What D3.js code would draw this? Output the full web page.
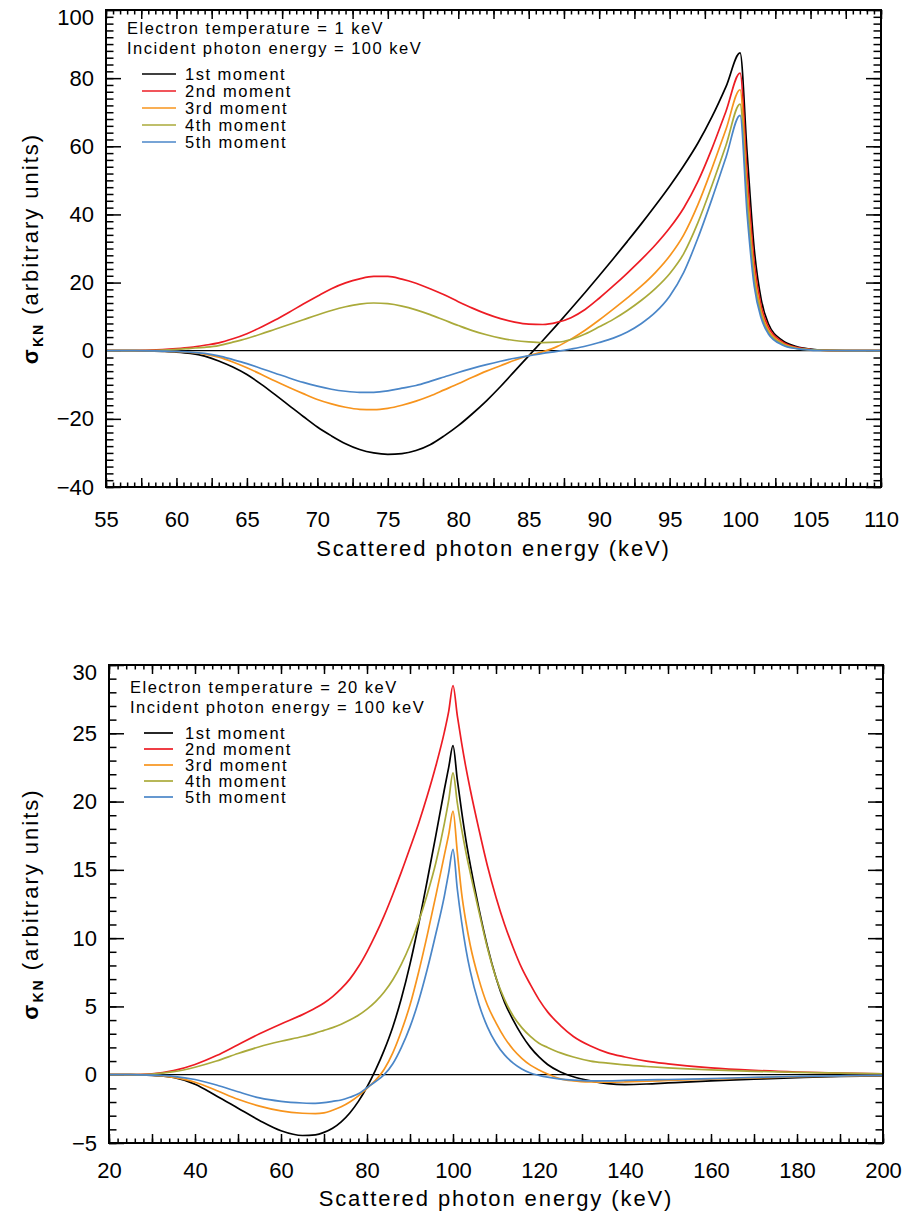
<!DOCTYPE html>
<html>
<head>
<meta charset="utf-8">
<script src="https://cdn.jsdelivr.net/npm/d3@7"></script>
<style>
  body { margin: 0; background: #fff; }
  svg { display: block; }
</style>
</head>
<body>
<script>
// ---- data: top panel (Te = 1 keV) ----
var energyTop = [55, 57, 59, 60, 61, 62, 63, 64, 65, 66, 67, 68, 69, 70, 71, 72, 73, 74, 75, 76, 77, 78, 79,
  80, 81, 82, 83, 84, 85, 86, 87, 88, 89, 90, 91, 92, 93, 94, 95, 96, 97, 98, 99, 100,
  100.5, 101, 101.5, 102, 103, 104, 105, 106, 108, 110];
var top1st = [0, 0, -0.2, -0.4, -0.8, -1.6, -3.0, -4.8, -7.0, -9.8, -12.9, -16.1, -19.3, -22.4, -25.0, -27.3, -29.0, -30.0, -30.4, -30.2, -29.3, -27.6, -25.0,
  -22.0, -18.5, -14.7, -10.5, -6.0, -1.5, 3.0, 7.6, 12.3, 17.1, 22.0, 27.0, 32.1, 37.3, 42.7, 48.3, 54.3, 60.9, 68.6, 77.5, 87.4,
  58, 30, 15, 8, 3, 1.2, 0.45, 0.15, 0.02, 0];
var top2nd = [0, 0.05, 0.3, 0.6, 1.0, 1.6, 2.3, 3.5, 5.0, 6.9, 9.0, 11.3, 13.7, 16.0, 18.2, 19.9, 21.1, 21.8, 21.8, 21.0, 19.8, 18.2, 16.4,
  14.4, 12.5, 10.8, 9.4, 8.4, 7.8, 7.7, 8.3, 9.7, 12.1, 15.4, 19.0, 22.8, 26.8, 31.1, 36.0, 41.9, 49.6, 59.3, 70.3, 81.5,
  52, 26, 13, 7, 2.6, 1.0, 0.35, 0.12, 0.02, 0];
var top3rd = [0, 0, -0.1, -0.25, -0.5, -1.0, -1.9, -3.3, -5.0, -6.9, -8.9, -10.8, -12.6, -14.3, -15.6, -16.6, -17.2, -17.3, -16.9, -16.0, -14.8, -13.3, -11.5,
  -9.7, -7.8, -6.0, -4.4, -2.8, -1.4, -0.3, 1.2, 3.4, 6.0, 9.0, 12.2, 15.5, 19.0, 23.0, 27.8, 34.0, 42.8, 53.5, 65.0, 76.6,
  47, 23, 11.5, 6, 2.2, 0.8, 0.28, 0.1, 0.01, 0];
var top4th = [0, 0.05, 0.2, 0.4, 0.7, 1.0, 1.5, 2.5, 3.6, 4.9, 6.3, 7.7, 9.1, 10.5, 11.8, 12.9, 13.7, 14.0, 13.8, 13.1, 12.0, 10.6, 9.0,
  7.4, 5.9, 4.7, 3.7, 3.0, 2.6, 2.4, 2.5, 3.3, 4.9, 7.0, 9.2, 11.8, 14.8, 18.3, 22.6, 28.5, 37.5, 48.5, 60.3, 72.4,
  44, 21, 10.5, 5.5, 2, 0.7, 0.25, 0.08, 0.01, 0];
var top5th = [0, 0, -0.1, -0.2, -0.4, -0.8, -1.5, -2.6, -3.8, -5.2, -6.6, -8.0, -9.3, -10.4, -11.3, -11.9, -12.2, -12.2, -11.8, -11.0, -10.2, -9.0, -7.7,
  -6.4, -5.2, -4.1, -3.1, -2.2, -1.5, -0.8, -0.2, 0.5, 1.3, 2.4, 3.7, 5.5, 8.0, 11.3, 16.0, 23.0, 33.0, 44.5, 56.8, 69.1,
  40, 19, 9.5, 5, 1.7, 0.6, 0.2, 0.07, 0.01, 0];

// ---- data: bottom panel (Te = 20 keV) ----
var energyBot = [20, 25, 30, 35, 40, 45, 50, 55, 60, 65, 68, 70, 72, 74, 76, 78, 80, 82, 84, 86, 88, 90, 92, 94, 96, 98, 99, 100,
  101, 102, 103, 104, 106, 108, 110, 112, 114, 116, 118, 120, 122, 125, 128, 132, 136, 140, 145, 150, 160, 170, 180, 190, 200];
var bot1st = [0, 0, -0.05, -0.2, -0.7, -1.55, -2.45, -3.35, -4.1, -4.45, -4.4, -4.22, -3.92, -3.45, -2.8, -1.95, -0.9, 0.35, 1.8, 3.5, 5.6, 8.1, 11.0, 14.2, 17.5, 20.9, 22.5, 24.1,
  21.6, 19.3, 17.2, 15.4, 12.2, 9.4, 7.1, 5.3, 4.0, 2.9, 2.0, 1.3, 0.75, 0.2, -0.15, -0.45, -0.65, -0.72, -0.68, -0.6, -0.45, -0.33, -0.22, -0.13, -0.08];
var bot2nd = [0, 0.01, 0.07, 0.3, 0.75, 1.4, 2.2, 3.0, 3.72, 4.4, 4.88, 5.25, 5.72, 6.3, 7.0, 7.9, 9.0, 10.25, 11.65, 13.2, 14.85, 16.6, 18.4, 20.4, 22.6, 25.1, 26.6, 28.5,
  26.3, 24.3, 22.5, 20.9, 18.0, 15.3, 13.0, 11.0, 9.3, 7.8, 6.6, 5.5, 4.6, 3.6, 2.8, 2.1, 1.6, 1.3, 1.0, 0.8, 0.5, 0.32, 0.2, 0.12, 0.07];
var bot3rd = [0, 0, -0.03, -0.2, -0.55, -1.15, -1.8, -2.3, -2.65, -2.82, -2.85, -2.8, -2.6, -2.35, -2.0, -1.55, -1.0, -0.4, 0.4, 1.6, 3.2, 5.1, 7.5, 10.2, 13.1, 16.1, 17.6, 19.3,
  16.3, 13.3, 11.2, 9.5, 7.0, 5.1, 3.8, 2.7, 1.85, 1.2, 0.7, 0.35, 0.05, -0.3, -0.45, -0.53, -0.55, -0.53, -0.48, -0.42, -0.32, -0.23, -0.15, -0.1, -0.06];
var bot4th = [0, 0.01, 0.05, 0.22, 0.55, 1.0, 1.55, 2.05, 2.45, 2.8, 3.05, 3.25, 3.45, 3.7, 4.0, 4.35, 4.8, 5.35, 6.05, 6.95, 8.1, 9.5, 11.2, 13.2, 15.5, 18.4, 20.1, 22.1,
  19.9, 18.0, 16.3, 14.8, 12.0, 9.3, 7.1, 5.5, 4.3, 3.45, 2.8, 2.3, 2.0, 1.6, 1.3, 1.0, 0.85, 0.72, 0.6, 0.5, 0.35, 0.25, 0.17, 0.11, 0.07];
var bot5th = [0, 0, -0.03, -0.12, -0.35, -0.75, -1.25, -1.7, -1.95, -2.07, -2.1, -2.05, -1.95, -1.85, -1.65, -1.4, -0.95, -0.5, 0.0, 0.8, 2.0, 3.5, 5.4, 7.7, 10.3, 13.1, 14.8, 16.5,
  13.6, 11.2, 9.2, 7.6, 5.2, 3.5, 2.3, 1.45, 0.85, 0.42, 0.12, -0.05, -0.18, -0.32, -0.4, -0.45, -0.45, -0.42, -0.38, -0.35, -0.28, -0.2, -0.13, -0.08, -0.05];

var momentNames = ["1st moment", "2nd moment", "3rd moment", "4th moment", "5th moment"];
var momentColors = ["#000000", "#ed1c24", "#f7941d", "#aaaa3a", "#4a86c8"];

var W = 908, H = 1213;
var FONT = "'Liberation Sans', Arial, sans-serif";

var svg = d3.select("body").append("svg")
    .attr("width", W)
    .attr("height", H);

function drawPanel(p) {
    var x = d3.scaleLinear().domain(p.xDomain).range([p.left, p.right]);
    var y = d3.scaleLinear().domain(p.yDomain).range([p.bottom, p.top]);
    var g = svg.append("g");

    var xLen = 9, yLen = 15; // tick lengths, pointing inwards

    function fmtX(d) { return (Math.abs(d / p.xLabelStep - Math.round(d / p.xLabelStep)) < 1e-6) ? d : ""; }
    function rng(d, step) { return d3.range(d[0], d[1] + 1e-6, step); }

    // bottom axis, labelled
    g.append("g").attr("transform", "translate(0," + p.bottom + ")")
        .call(d3.axisBottom(x).tickValues(rng(p.xDomain, p.xMajor))
            .tickSizeInner(-xLen).tickSizeOuter(0).tickPadding(p.xPad).tickFormat(fmtX));
    g.append("g").attr("transform", "translate(0," + p.bottom + ")")
        .call(d3.axisBottom(x).tickValues(rng(p.xDomain, p.xMinor))
            .tickSizeInner(-xLen / 2).tickSizeOuter(0).tickFormat(""));
    // top axis
    g.append("g").attr("transform", "translate(0," + p.top + ")")
        .call(d3.axisTop(x).tickValues(rng(p.xDomain, p.xMajor))
            .tickSizeInner(-xLen).tickSizeOuter(0).tickFormat(""));
    g.append("g").attr("transform", "translate(0," + p.top + ")")
        .call(d3.axisTop(x).tickValues(rng(p.xDomain, p.xMinor))
            .tickSizeInner(-xLen / 2).tickSizeOuter(0).tickFormat(""));
    // left axis, labelled
    var yl = g.append("g").attr("transform", "translate(" + p.left + ",0)")
        .call(d3.axisLeft(y).tickValues(rng(p.yDomain, p.yMajor))
            .tickSizeInner(-yLen).tickSizeOuter(0).tickPadding(p.yPad)
            .tickFormat(function(d) { return d < 0 ? "\u2212" + Math.abs(d) : d; }));
    g.append("g").attr("transform", "translate(" + p.left + ",0)")
        .call(d3.axisLeft(y).tickValues(rng(p.yDomain, p.yMinor))
            .tickSizeInner(-yLen / 2).tickSizeOuter(0).tickFormat(""));
    // right axis
    g.append("g").attr("transform", "translate(" + p.right + ",0)")
        .call(d3.axisRight(y).tickValues(rng(p.yDomain, p.yMajor))
            .tickSizeInner(-yLen).tickSizeOuter(0).tickFormat(""));
    g.append("g").attr("transform", "translate(" + p.right + ",0)")
        .call(d3.axisRight(y).tickValues(rng(p.yDomain, p.yMinor))
            .tickSizeInner(-yLen / 2).tickSizeOuter(0).tickFormat(""));

    g.selectAll(".domain").remove();
    g.selectAll(".tick line").attr("stroke", "#000").attr("stroke-width", 1.5);
    g.selectAll(".tick text").attr("font-family", FONT).attr("font-size", 22).attr("fill", "#000");
    // the top label sits a little lower so it is not cut off
    yl.selectAll(".tick text").filter(function(d) { return d === p.yDomain[1]; })
        .attr("transform", "translate(0,7)");

    // zero line
    g.append("line")
        .attr("x1", p.left).attr("x2", p.right)
        .attr("y1", y(0)).attr("y2", y(0))
        .attr("stroke", "#000").attr("stroke-width", 1.2);

    // curves
    var line = d3.line()
        .x(function(d) { return x(d[0]); })
        .y(function(d) { return y(d[1]); })
        .curve(d3.curveMonotoneX);
    var clipId = "clip" + p.id;
    svg.append("clipPath").attr("id", clipId).append("rect")
        .attr("x", p.left).attr("y", p.top).attr("width", p.right - p.left).attr("height", p.bottom - p.top);
    var cg = g.append("g").attr("clip-path", "url(#" + clipId + ")");
    p.series.forEach(function(s, i) {
        var pts = p.energy.map(function(e, k) { return [e, s[k]]; });
        cg.append("path")
            .attr("d", line(pts))
            .attr("fill", "none")
            .attr("stroke", momentColors[i])
            .attr("stroke-width", 1.7)
            .attr("stroke-linejoin", "round");
    });

    // frame
    g.append("rect")
        .attr("x", p.left).attr("y", p.top)
        .attr("width", p.right - p.left).attr("height", p.bottom - p.top)
        .attr("fill", "none").attr("stroke", "#000").attr("stroke-width", 2);

    // x title
    g.append("text")
        .attr("x", (p.left + p.right) / 2).attr("y", p.bottom + p.titleOff)
        .attr("text-anchor", "middle")
        .attr("font-family", FONT).attr("font-size", 22)
        .attr("letter-spacing", 1.9)
        .text("Scattered photon energy (keV)");

    // y title
    var yt = g.append("text")
        .attr("transform", "translate(" + 38 + "," + ((p.top + p.bottom) / 2) + ") rotate(-90)")
        .attr("text-anchor", "middle")
        .attr("font-family", FONT).attr("font-size", 22)
        .attr("letter-spacing", 2);
    yt.append("tspan").attr("font-weight", "bold").text("\u03c3");
    yt.append("tspan").attr("font-size", 14).attr("dy", 5).attr("font-weight", "bold").text("KN");
    yt.append("tspan").attr("dy", -5).text(" (arbitrary units)");

    // legend
    var lg = g.append("g").attr("font-family", FONT).attr("font-size", 16.5).attr("letter-spacing", 1.5);
    lg.append("text").attr("x", p.left + 21).attr("y", p.headY).text(p.head1);
    lg.append("text").attr("x", p.left + 21).attr("y", p.headY + 20).text(p.head2);
    momentNames.forEach(function(name, i) {
        var cy = p.legY + i * p.legStep;
        lg.append("line")
            .attr("x1", p.lineX0).attr("x2", p.lineX1)
            .attr("y1", cy).attr("y2", cy)
            .attr("stroke", momentColors[i]).attr("stroke-width", 1.7);
        lg.append("text").attr("x", 185).attr("y", cy + 6).text(name);
    });
}

drawPanel({
    id: "top", left: 106, right: 881, top: 10, bottom: 487,
    xDomain: [55, 110], yDomain: [-40, 100],
    xMajor: 2.5, xMinor: 0.5, xLabelStep: 5, yMajor: 20, yMinor: 2,
    xPad: 24, yPad: 12, titleOff: 69,
    energy: energyTop, series: [top1st, top2nd, top3rd, top4th, top5th],
    head1: "Electron temperature = 1 keV", head2: "Incident photon energy = 100 keV",
    headY: 34, legY: 74, legStep: 17, lineX0: 142, lineX1: 176
});

drawPanel({
    id: "bot", left: 109, right: 883, top: 665, bottom: 1143,
    xDomain: [20, 200], yDomain: [-5, 30],
    xMajor: 10, xMinor: 2, xLabelStep: 20, yMajor: 5, yMinor: 1,
    xPad: 19, yPad: 12, titleOff: 63,
    energy: energyBot, series: [bot1st, bot2nd, bot3rd, bot4th, bot5th],
    head1: "Electron temperature = 20 keV", head2: "Incident photon energy = 100 keV",
    headY: 693, legY: 733, legStep: 16, lineX0: 144, lineX1: 173
});
</script>
</body>
</html>
